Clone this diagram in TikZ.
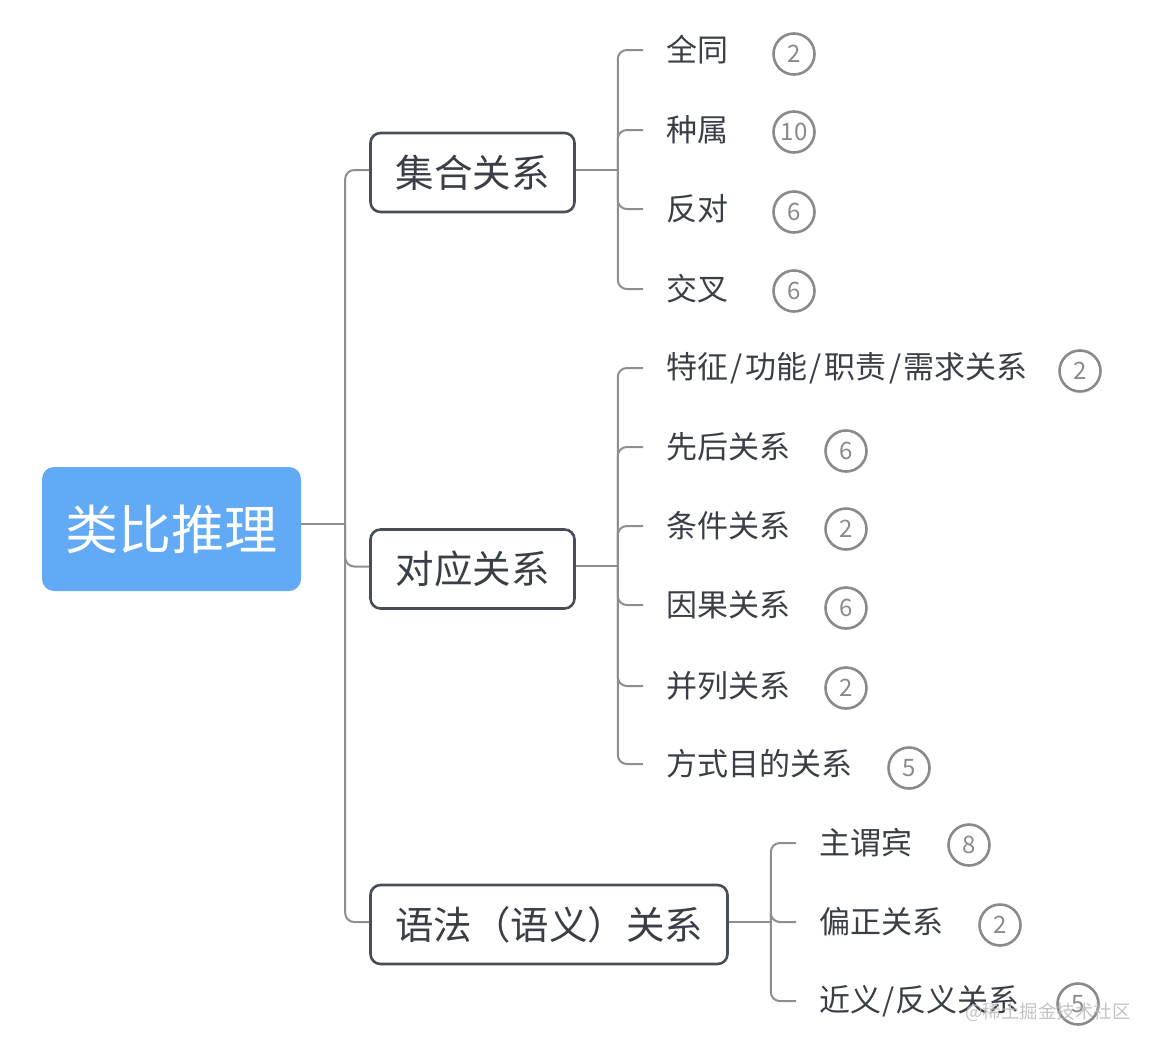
\documentclass[tikz,border=0pt]{standalone}
\usepackage{fontspec}
\setmainfont{Noto Sans CJK SC}
\definecolor{rootblue}{HTML}{62AAF5}
\definecolor{boxdark}{HTML}{474E58}
\definecolor{txtdark}{HTML}{3A3F47}
\definecolor{linegray}{HTML}{8E8E8E}
\definecolor{badgegray}{HTML}{8A8A8A}
\tikzset{
  rootbox/.style={fill=rootblue, draw=none, rounded corners=12pt, minimum width=259pt, minimum height=124pt, text=white, font=\fontsize{53}{60}\selectfont, inner sep=0pt},
  midbox/.style={draw=boxdark, line width=2.6pt, rounded corners=10pt, minimum height=79pt, text=txtdark, font=\fontsize{38.5}{44}\selectfont, inner sep=0pt},
  leaf/.style={anchor=west, inner xsep=23pt, inner ysep=0pt, text=txtdark, font=\fontsize{31}{36}\selectfont},
  badge/.style={circle, draw=badgegray, line width=2.6pt, minimum size=41pt, inner sep=0pt, text=badgegray, font=\fontsize{24}{28}\selectfont},
  conn/.style={draw=linegray, line width=2pt},
  branch/.style={draw=linegray, line width=2pt, rounded corners=9pt},
}
\begin{document}
\begin{tikzpicture}[x=1pt, y=-1pt]
\useasboundingbox (0,0) rectangle (1156,1050);
% root and main boxes
\node[rootbox] (root) at (171.5,529) {类比推理};
\node[midbox, minimum width=204pt] (b1) at (472.5,172.5) {集合关系};
\node[midbox, minimum width=204pt] (b2) at (472.5,569) {对应关系};
\node[midbox, minimum width=357pt] (b3) at (549,924.5) {语法（语义）关系};
% leaves group 1
\node[leaf] (l11) at (643,50) {全同};
\node[leaf] (l12) at (643,130) {种属};
\node[leaf] (l13) at (643,209) {反对};
\node[leaf] (l14) at (643,289) {交叉};
% leaves group 2
\node[leaf] (l21) at (643,368) {特征\kern2.5pt/\kern2.5pt功能\kern2.5pt/\kern2.5pt职责\kern2.5pt/\kern2.5pt需求关系};
\node[leaf] (l22) at (643,447) {先后关系};
\node[leaf] (l23) at (643,526) {条件关系};
\node[leaf] (l24) at (643,605) {因果关系};
\node[leaf] (l25) at (643,686) {并列关系};
\node[leaf] (l26) at (643,764) {方式目的关系};
% leaves group 3
\node[leaf] (l31) at (796,843) {主谓宾};
\node[leaf] (l32) at (796,922) {偏正关系};
\node[leaf] (l33) at (796,1001) {近义\kern1pt/\kern1pt反义关系};
% badges
\node[badge] (c11) at (794,54) {2};
\node[badge] (c12) at (794,132) {10};
\node[badge] (c13) at (794,212) {6};
\node[badge] (c14) at (794,291) {6};
\node[badge] (c21) at (1080,371) {2};
\node[badge] (c22) at (846,451) {6};
\node[badge] (c23) at (846,529) {2};
\node[badge] (c24) at (846,608) {6};
\node[badge] (c25) at (846,688) {2};
\node[badge] (c26) at (909,768) {5};
\node[badge] (c31) at (969,845) {8};
\node[badge] (c32) at (1000,925) {2};
\node[badge] (c33) at (1078,1004) {5};
% trunk coordinates
\coordinate (t0) at ([yshift=5pt,xshift=44pt]root.east);
\coordinate (t1) at ([yshift=2.5pt,xshift=42pt]b1.east);
\coordinate (t2) at ([yshift=3pt,xshift=42pt]b2.east);
\coordinate (t3) at ([yshift=2.5pt,xshift=42pt]b3.east);
% connectors
\draw[conn] ([yshift=5pt]root.east) -- (t0);
\draw[conn] ([yshift=2.5pt]b1.east) -- (t1);
\draw[conn] ([yshift=3pt]b2.east) -- (t2);
\draw[conn] ([yshift=2.5pt]b3.east) -- (t3);
\foreach \b in {b1,b2,b3}
  \draw[branch] (t0) |- ([yshift=2.5pt]\b.west);
\foreach \l in {l11,l12,l13,l14}
  \draw[branch] (t1) |- (\l.west);
\foreach \l in {l21,l22,l23,l24,l25,l26}
  \draw[branch] (t2) |- (\l.west);
\foreach \l in {l31,l32,l33}
  \draw[branch] (t3) |- (\l.west);
% watermark
\node[text=gray!55, opacity=0.85, font=\fontsize{18.5}{22}\selectfont, inner sep=0pt] (wm) at (1048,1012) {@稀土掘金技术社区};
\end{tikzpicture}
\end{document}
